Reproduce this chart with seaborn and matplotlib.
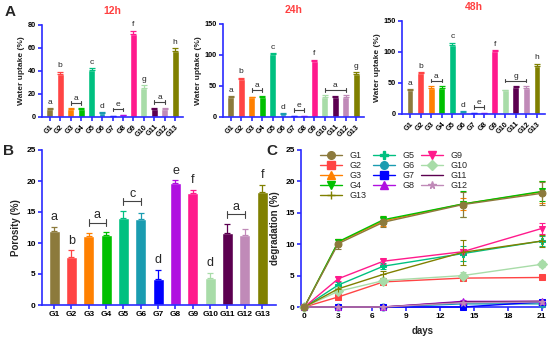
import numpy as np
import pandas as pd
import seaborn as sns
import matplotlib.pyplot as plt
from matplotlib.lines import Line2D

groups = ["G1", "G2", "G3", "G4", "G5", "G6", "G7", "G8", "G9", "G10", "G11", "G12", "G13"]
colors = ["#8c7a3c", "#ff4444", "#ff8000", "#00c000", "#00c080", "#1a9cb0", "#0000ff",
          "#b010e0", "#ff1a8c", "#a8dca8", "#5c0050", "#c08ab8", "#808000"]

# panel A - water uptake
uptake_12h = [7, 37.5, 7, 7, 41, 3.5, 1, 1.5, 72, 25.5, 7, 7, 57]
err_12h = [0.6, 2, 0.5, 0.5, 1.2, 0.5, 0.3, 0.3, 3.2, 2, 0.8, 1, 3]
letters_12h = [(0, 0, "a"), (1, 1, "b"), (2, 3, "a"), (4, 4, "c"), (5, 5, "d"), (6, 7, "e"),
               (8, 8, "f"), (9, 9, "g"), (10, 11, "a"), (12, 12, "h")]

uptake_24h = [32, 62, 32, 32, 101, 5, 2, 1.5, 90, 33, 32, 32, 70]
err_24h = [2, 1.5, 1, 2, 2, 1, 0.3, 0.3, 2.5, 2, 1.5, 3, 2.5]
letters_24h = [(0, 0, "a"), (1, 1, "b"), (2, 3, "a"), (4, 4, "c"), (5, 5, "d"), (6, 7, "e"),
               (8, 8, "f"), (9, 11, "a"), (12, 12, "g")]

uptake_48h = [38, 66, 42, 42, 112, 4, 1.5, 2, 101, 38, 43, 42, 78]
err_48h = [2.5, 1.5, 3, 3, 3, 1, 0.3, 0.3, 2, 1.5, 2, 3, 3]
letters_48h = [(0, 0, "a"), (1, 1, "b"), (2, 3, "a"), (4, 4, "c"), (5, 5, "d"), (6, 7, "e"),
               (8, 8, "f"), (9, 11, "g"), (12, 12, "h")]

# panel B - porosity
porosity = [11.9, 7.8, 11.2, 11.3, 14.0, 13.9, 4.2, 19.6, 18.0, 4.4, 11.6, 11.3, 18.2]
porosity_err = [0.7, 1.0, 0.4, 0.5, 1.2, 1.0, 1.5, 0.5, 0.6, 0.8, 1.5, 0.9, 1.1]
letters_b = [(0, 0, "a"), (1, 1, "b"), (2, 3, "a"), (4, 5, "c"), (6, 6, "d"), (7, 7, "e"),
             (8, 8, "f"), (9, 9, "d"), (10, 11, "a"), (12, 12, "f")]

# panel C - degradation
days = [0, 3, 7, 14, 21]
degradation = {
    "G1": [0, 10.1, 13.5, 16.3, 18.1],
    "G2": [0, 1.6, 4.0, 4.6, 4.7],
    "G3": [0, 10.3, 13.7, 16.4, 18.3],
    "G4": [0, 10.4, 13.9, 16.4, 18.4],
    "G5": [0, 3.5, 6.5, 8.5, 10.5],
    "G6": [0, 0, 0, 0.5, 0.5],
    "G7": [0, 0, 0, 0, 0.8],
    "G8": [0, 0, 0, 0.9, 0.9],
    "G9": [0, 4.5, 7.3, 8.8, 12.5],
    "G10": [0, 2.5, 4.2, 5.0, 6.8],
    "G11": [0, 0, 0, 0.8, 0.9],
    "G12": [0, 0, 0, 0.7, 0.8],
    "G13": [0, 2.9, 5.2, 8.7, 10.5],
}
degradation_err = {
    "G1": [0, 0.8, 0.8, 2.0, 1.8],
    "G2": [0, 0.3, 0.4, 0.3, 0.3],
    "G3": [0, 0.6, 0.8, 0.9, 1.8],
    "G4": [0, 0.5, 0.6, 2.0, 1.6],
    "G5": [0, 0.5, 0.5, 1.2, 0.8],
    "G6": [0, 0, 0, 0.2, 0.2],
    "G7": [0, 0, 0, 0, 0.3],
    "G8": [0, 0, 0, 0.2, 0.2],
    "G9": [0, 0.3, 0.4, 0.5, 0.9],
    "G10": [0, 0.3, 0.3, 0.6, 0.5],
    "G11": [0, 0, 0, 0.2, 0.2],
    "G12": [0, 0, 0, 0.2, 0.2],
    "G13": [0, 0.4, 0.6, 2.0, 0.9],
}
markers = {"G1": "o", "G2": "s", "G3": "^", "G4": "v", "G5": "P", "G6": "o", "G7": "s",
           "G8": "^", "G9": "v", "G10": "D", "G11": "", "G12": "*", "G13": "+"}
legend_order = ["G1", "G2", "G3", "G4", "G13", "G5", "G6", "G7", "G8", "G9", "G10", "G11", "G12"]

sns.set_style("ticks")
plt.rcParams['font.family'] = ['Liberation Sans', 'DejaVu Sans']
plt.rcParams['font.weight'] = 'bold'
plt.rcParams['axes.labelweight'] = 'bold'
axis_blue = "#2b2bff"

W, H = 550, 344
fig = plt.figure(figsize=(5.5, 3.44), dpi=100)


def add_ax(l, t, r, b):
    return fig.add_axes([l / W, 1 - b / H, (r - l) / W, (b - t) / H])


def style_ax(ax, fs):
    sns.despine(ax=ax)
    for s in ["left", "bottom"]:
        ax.spines[s].set_color(axis_blue)
        ax.spines[s].set_linewidth(1.2)
    ax.tick_params(colors=axis_blue, labelcolor="black", width=1.2, length=3, labelsize=fs, pad=1.5)
    for lab in ax.get_xticklabels() + ax.get_yticklabels():
        lab.set_fontweight("bold")


def bar_panel(ax, vals, errs, letters, ymax, yticks, tfs, lfs, rot):
    df = pd.DataFrame({"group": groups, "value": vals})
    sns.barplot(data=df, x="group", y="value", hue="group", palette=colors, legend=False,
                errorbar=None, width=0.65, ax=ax, saturation=1)
    for i, (v, e) in enumerate(zip(vals, errs)):
        ax.errorbar(i, v, yerr=[[0], [e]], color=colors[i], capsize=2, elinewidth=0.9,
                    capthick=0.9, fmt="none")
    for s, e, letter in letters:
        top = max(vals[k] + errs[k] for k in range(s, e + 1))
        if s == e:
            ax.text(s, top + 0.025 * ymax, letter, ha="center", va="bottom", fontsize=lfs,
                    fontweight="normal")
        else:
            y = top + 0.06 * ymax
            ax.plot([s, e], [y, y], color="#444444", lw=0.8)
            ax.plot([s, s], [y - 0.02 * ymax, y + 0.02 * ymax], color="#444444", lw=0.8)
            ax.plot([e, e], [y - 0.02 * ymax, y + 0.02 * ymax], color="#444444", lw=0.8)
            ax.text((s + e) / 2, y + 0.01 * ymax, letter, ha="center", va="bottom", fontsize=lfs,
                    fontweight="normal")
    ax.set_ylim(0, ymax)
    ax.set_yticks(yticks)
    ax.set_xlabel("")
    style_ax(ax, tfs)
    if rot:
        ax.set_xticks(range(13))
        ax.set_xticklabels(groups, rotation=45, ha="right", rotation_mode="anchor", fontweight="bold")


# --- panel A
axA1 = add_ax(42, 25, 183, 117)
bar_panel(axA1, uptake_12h, err_12h, letters_12h, 80, [0, 20, 40, 60, 80], 5.2, 6, True)
axA1.set_xlim(-0.75, 12.75)
axA1.set_ylabel("Water uptake (%)", fontsize=6, labelpad=2)
axA1.set_title("12h", color="#ff4040", fontsize=7.5, fontweight="bold", pad=8)

axA2 = add_ax(223, 24, 364, 117)
bar_panel(axA2, uptake_24h, err_24h, letters_24h, 150, [0, 50, 100, 150], 5.2, 6, True)
axA2.set_xlim(-0.75, 12.75)
axA2.set_ylabel("Water uptake (%)", fontsize=6, labelpad=2)
axA2.set_title("24h", color="#ff4040", fontsize=7.5, fontweight="bold", pad=8)

axA3 = add_ax(402, 21, 545, 114)
bar_panel(axA3, uptake_48h, err_48h, letters_48h, 150, [0, 50, 100, 150], 5.2, 6, True)
axA3.set_xlim(-0.75, 12.75)
axA3.set_ylabel("Water uptake (%)", fontsize=6, labelpad=2)
axA3.set_title("48h", color="#ff4040", fontsize=7.5, fontweight="bold", pad=8)

# --- panel B
axB = add_ax(42, 150, 276, 305)
bar_panel(axB, porosity, porosity_err, letters_b, 25, [0, 5, 10, 15, 20, 25], 6, 9, False)
axB.set_xlim(-0.7, 12.8)
axB.set_ylabel("Porosity (%)", fontsize=7, labelpad=4)
for lab in axB.get_xticklabels():
    lab.set_fontweight("bold")

# --- panel C
axC = add_ax(301, 150, 545, 307)
handles = {}
draw_order = [g for g in groups if g != "G1"] + ["G1"]
for g in draw_order:
    c = colors[groups.index(g)]
    m = markers[g] if markers[g] else None
    sns.lineplot(x=days, y=degradation[g], color=c, marker=m, markersize=5,
                 markeredgecolor=c, lw=1, ax=axC, clip_on=False, zorder=3)
    axC.errorbar(days, degradation[g], yerr=degradation_err[g], color=c, capsize=2.5,
                 elinewidth=0.8, capthick=0.8, fmt="none", zorder=2)
    handles[g] = Line2D([], [], color=c, marker=m, markersize=5.5, lw=1)
axC.set_xlim(-0.3, 21.3)
axC.set_ylim(0, 25)
axC.set_xticks([0, 3, 6, 9, 12, 15, 18, 21])
axC.set_yticks([0, 5, 10, 15, 20, 25])
axC.set_xlabel("days", fontsize=7, labelpad=4)
axC.set_ylabel("degradation (%)", fontsize=7)
axC.yaxis.set_label_coords((280 - 301) / (545 - 301), 0.5)
style_ax(axC, 6)
axC.legend([handles[g] for g in legend_order], legend_order, ncol=3, frameon=False,
           loc="upper left", bbox_to_anchor=(312 / W, 1 - 143 / H),
           bbox_transform=fig.transFigure, handlelength=2.4, handletextpad=0.8,
           columnspacing=0.8, labelspacing=0.12, prop={"weight": "normal", "size": 6.5})

# panel letters
fig.text(10 / W, 1 - 12 / H, "A", fontsize=11, fontweight="bold", va="center", ha="center")
fig.text(9 / W, 1 - 151 / H, "B", fontsize=11, fontweight="bold", va="center", ha="center")
fig.text(272 / W, 1 - 151 / H, "C", fontsize=11, fontweight="bold", va="center", ha="center")

fig.savefig("out.png", dpi=100)
